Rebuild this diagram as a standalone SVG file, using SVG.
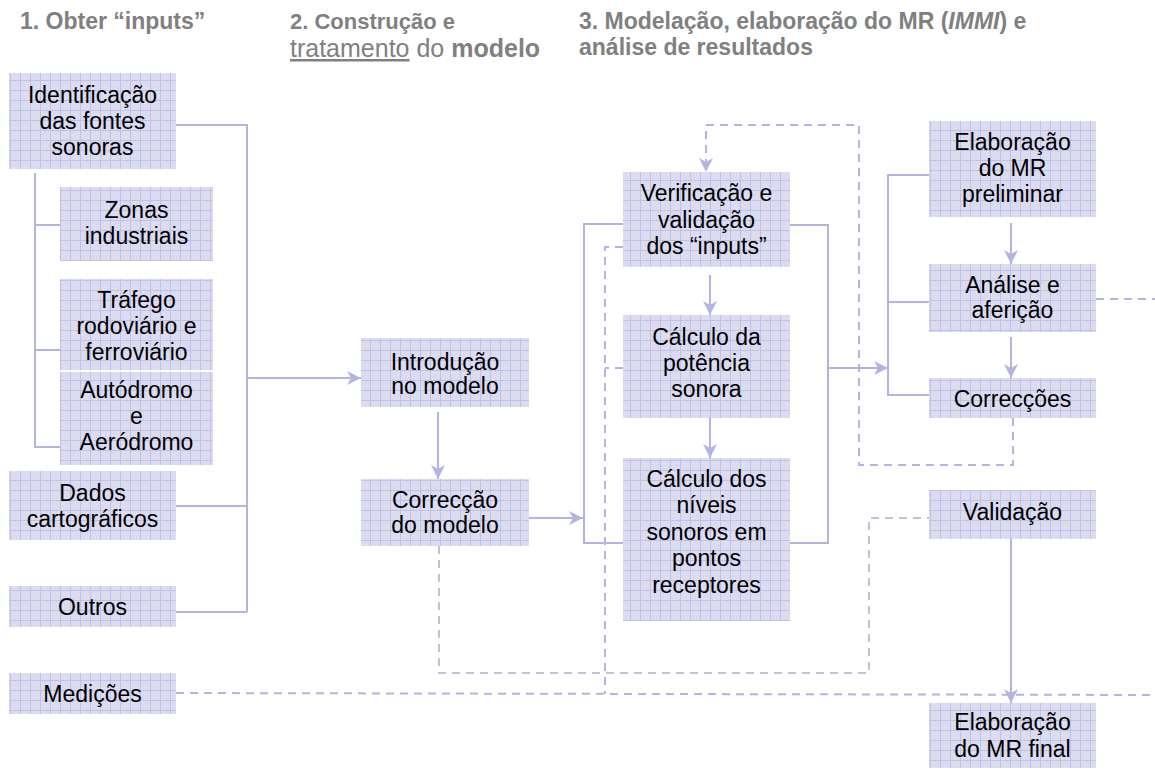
<svg xmlns="http://www.w3.org/2000/svg" width="1155" height="771" viewBox="0 0 1155 771">
<defs>
<pattern id="grid" patternUnits="userSpaceOnUse" width="10" height="10">
<rect width="10" height="10" fill="#dcdcf1"/>
<path d="M0,0.5 H10 M0.5,0 V10" stroke="#c0c0e8" stroke-width="1" fill="none"/>
</pattern>
<marker id="ah" markerUnits="userSpaceOnUse" markerWidth="16" markerHeight="16" refX="14" refY="7" orient="auto">
<path d="M0,0 L14,7 L0,14 L4,7 Z" fill="#b4b4e1"/>
</marker>
</defs>
<style>
.box{fill:url(#grid);}
.t{font-family:"Liberation Sans",Arial,sans-serif;font-size:23px;fill:#000;text-anchor:middle;}
.h{font-family:"Liberation Sans",Arial,sans-serif;font-size:23px;font-weight:bold;fill:#808080;}
.h2a{font-size:22px;}
.h2b{font-size:25px;}
.c{fill:none;stroke:#b4b4e1;stroke-width:2;}
.d{fill:none;stroke:#b4b4e1;stroke-width:2;stroke-dasharray:8,6;}
.d2{fill:none;stroke:#c8bed8;stroke-width:2;stroke-dasharray:8,6;}
</style>
<g id="headers">
<text class="h" x="20" y="29">1. Obter “inputs”</text>
<text class="h h2a" x="290" y="29">2. Construção e</text>
<text class="h h2b" x="290" y="57"><tspan font-weight="normal" text-decoration="underline">tratamento</tspan><tspan font-weight="normal"> do </tspan>modelo</text>
<text class="h" x="579" y="29">3. Modelação, elaboração do MR (<tspan font-style="italic">IMMI</tspan>) e</text>
<text class="h" x="579" y="55">análise de resultados</text>
</g>
<g id="connectors">
<path class="c" d="M176,125 H247 V612"/>
<path class="c" d="M176,506 H247"/>
<path class="c" d="M176,612 H247"/>
<path class="c" d="M247,378 H361" marker-end="url(#ah)"/>
<path class="c" d="M35,173 V447 H60 M35,225 H60 M35,350 H60"/>
<path class="c" d="M438,412 V479" marker-end="url(#ah)"/>
<path class="c" d="M529,518 H583" marker-end="url(#ah)"/>
<path class="c" d="M623,224 H584 V543 H623"/>
<path class="c" d="M790,225 H828 V543 H790"/>
<path class="c" d="M828,368 H888" marker-end="url(#ah)"/>
<path class="c" d="M710,275 V315" marker-end="url(#ah)"/>
<path class="c" d="M710,418 V458" marker-end="url(#ah)"/>
<path class="c" d="M929,175 H888 V395 H929 M888,302 H929"/>
<path class="c" d="M1011,223 V264" marker-end="url(#ah)"/>
<path class="c" d="M1011,337 V378" marker-end="url(#ah)"/>
<path class="c" d="M1011,539 V703" marker-end="url(#ah)"/>
<path class="d" d="M1013,418 V465 H859 V125 H706 V172" marker-end="url(#ah)"/>
<path class="d" d="M623,247 H605 V694 M623,368 H605"/>
<path class="d" d="M176,693 L1155,695"/>
<path class="d2" d="M439,546 V673 H869 V518 H929"/>
<path class="d" d="M1096,299 H1155"/>
</g>
<g id="n-identificacao"><rect class="box" x="9" y="73" width="167" height="96"/>
<text class="t" x="92.5" y="103">Identificação</text><text class="t" x="92.5" y="129">das fontes</text><text class="t" x="92.5" y="155">sonoras</text></g>
<g id="n-zonas"><rect class="box" x="60" y="187" width="153" height="74"/>
<text class="t" x="136.5" y="218">Zonas</text><text class="t" x="136.5" y="244">industriais</text></g>
<g id="n-trafego"><rect class="box" x="60" y="279" width="153" height="91"/>
<text class="t" x="136.5" y="308">Tráfego</text><text class="t" x="136.5" y="334">rodoviário e</text><text class="t" x="136.5" y="360">ferroviário</text></g>
<g id="n-autodromo"><rect class="box" x="60" y="372" width="153" height="93"/>
<text class="t" x="136.5" y="398">Autódromo</text><text class="t" x="136.5" y="424">e</text><text class="t" x="136.5" y="450">Aeródromo</text></g>
<g id="n-dados"><rect class="box" x="9" y="471" width="167" height="69"/>
<text class="t" x="92.5" y="501">Dados</text><text class="t" x="92.5" y="527">cartográficos</text></g>
<g id="n-outros"><rect class="box" x="9" y="586" width="167" height="41"/>
<text class="t" x="92.5" y="615">Outros</text></g>
<g id="n-medicoes"><rect class="box" x="9" y="673" width="167" height="41"/>
<text class="t" x="92.5" y="702">Medições</text></g>
<g id="n-introducao"><rect class="box" x="361" y="338" width="168" height="69"/>
<text class="t" x="445" y="370">Introdução</text><text class="t" x="445" y="394">no modelo</text></g>
<g id="n-correccao"><rect class="box" x="361" y="479" width="168" height="67"/>
<text class="t" x="445" y="508">Correcção</text><text class="t" x="445" y="533">do modelo</text></g>
<g id="n-verificacao"><rect class="box" x="623" y="172" width="167" height="95"/>
<text class="t" x="706.5" y="201">Verificação e</text><text class="t" x="706.5" y="228">validação</text><text class="t" x="706.5" y="254">dos “inputs”</text></g>
<g id="n-potencia"><rect class="box" x="623" y="315" width="167" height="103"/>
<text class="t" x="706.5" y="345">Cálculo da</text><text class="t" x="706.5" y="371">potência</text><text class="t" x="706.5" y="397">sonora</text></g>
<g id="n-niveis"><rect class="box" x="623" y="458" width="167" height="163"/>
<text class="t" x="706.5" y="487">Cálculo dos</text><text class="t" x="706.5" y="513">níveis</text><text class="t" x="706.5" y="540">sonoros em</text><text class="t" x="706.5" y="566">pontos</text><text class="t" x="706.5" y="593">receptores</text></g>
<g id="n-elab-prelim"><rect class="box" x="929" y="121" width="167" height="96"/>
<text class="t" x="1012.5" y="150">Elaboração</text><text class="t" x="1012.5" y="176">do MR</text><text class="t" x="1012.5" y="202">preliminar</text></g>
<g id="n-analise"><rect class="box" x="929" y="264" width="167" height="68"/>
<text class="t" x="1012.5" y="293">Análise e</text><text class="t" x="1012.5" y="318">aferição</text></g>
<g id="n-correccoes"><rect class="box" x="929" y="378" width="167" height="40"/>
<text class="t" x="1012.5" y="407">Correcções</text></g>
<g id="n-validacao"><rect class="box" x="929" y="490" width="167" height="49"/>
<text class="t" x="1012.5" y="520">Validação</text></g>
<g id="n-elab-final"><rect class="box" x="929" y="703" width="167" height="65"/>
<text class="t" x="1012.5" y="730">Elaboração</text><text class="t" x="1012.5" y="757">do MR final</text></g>
</svg>
